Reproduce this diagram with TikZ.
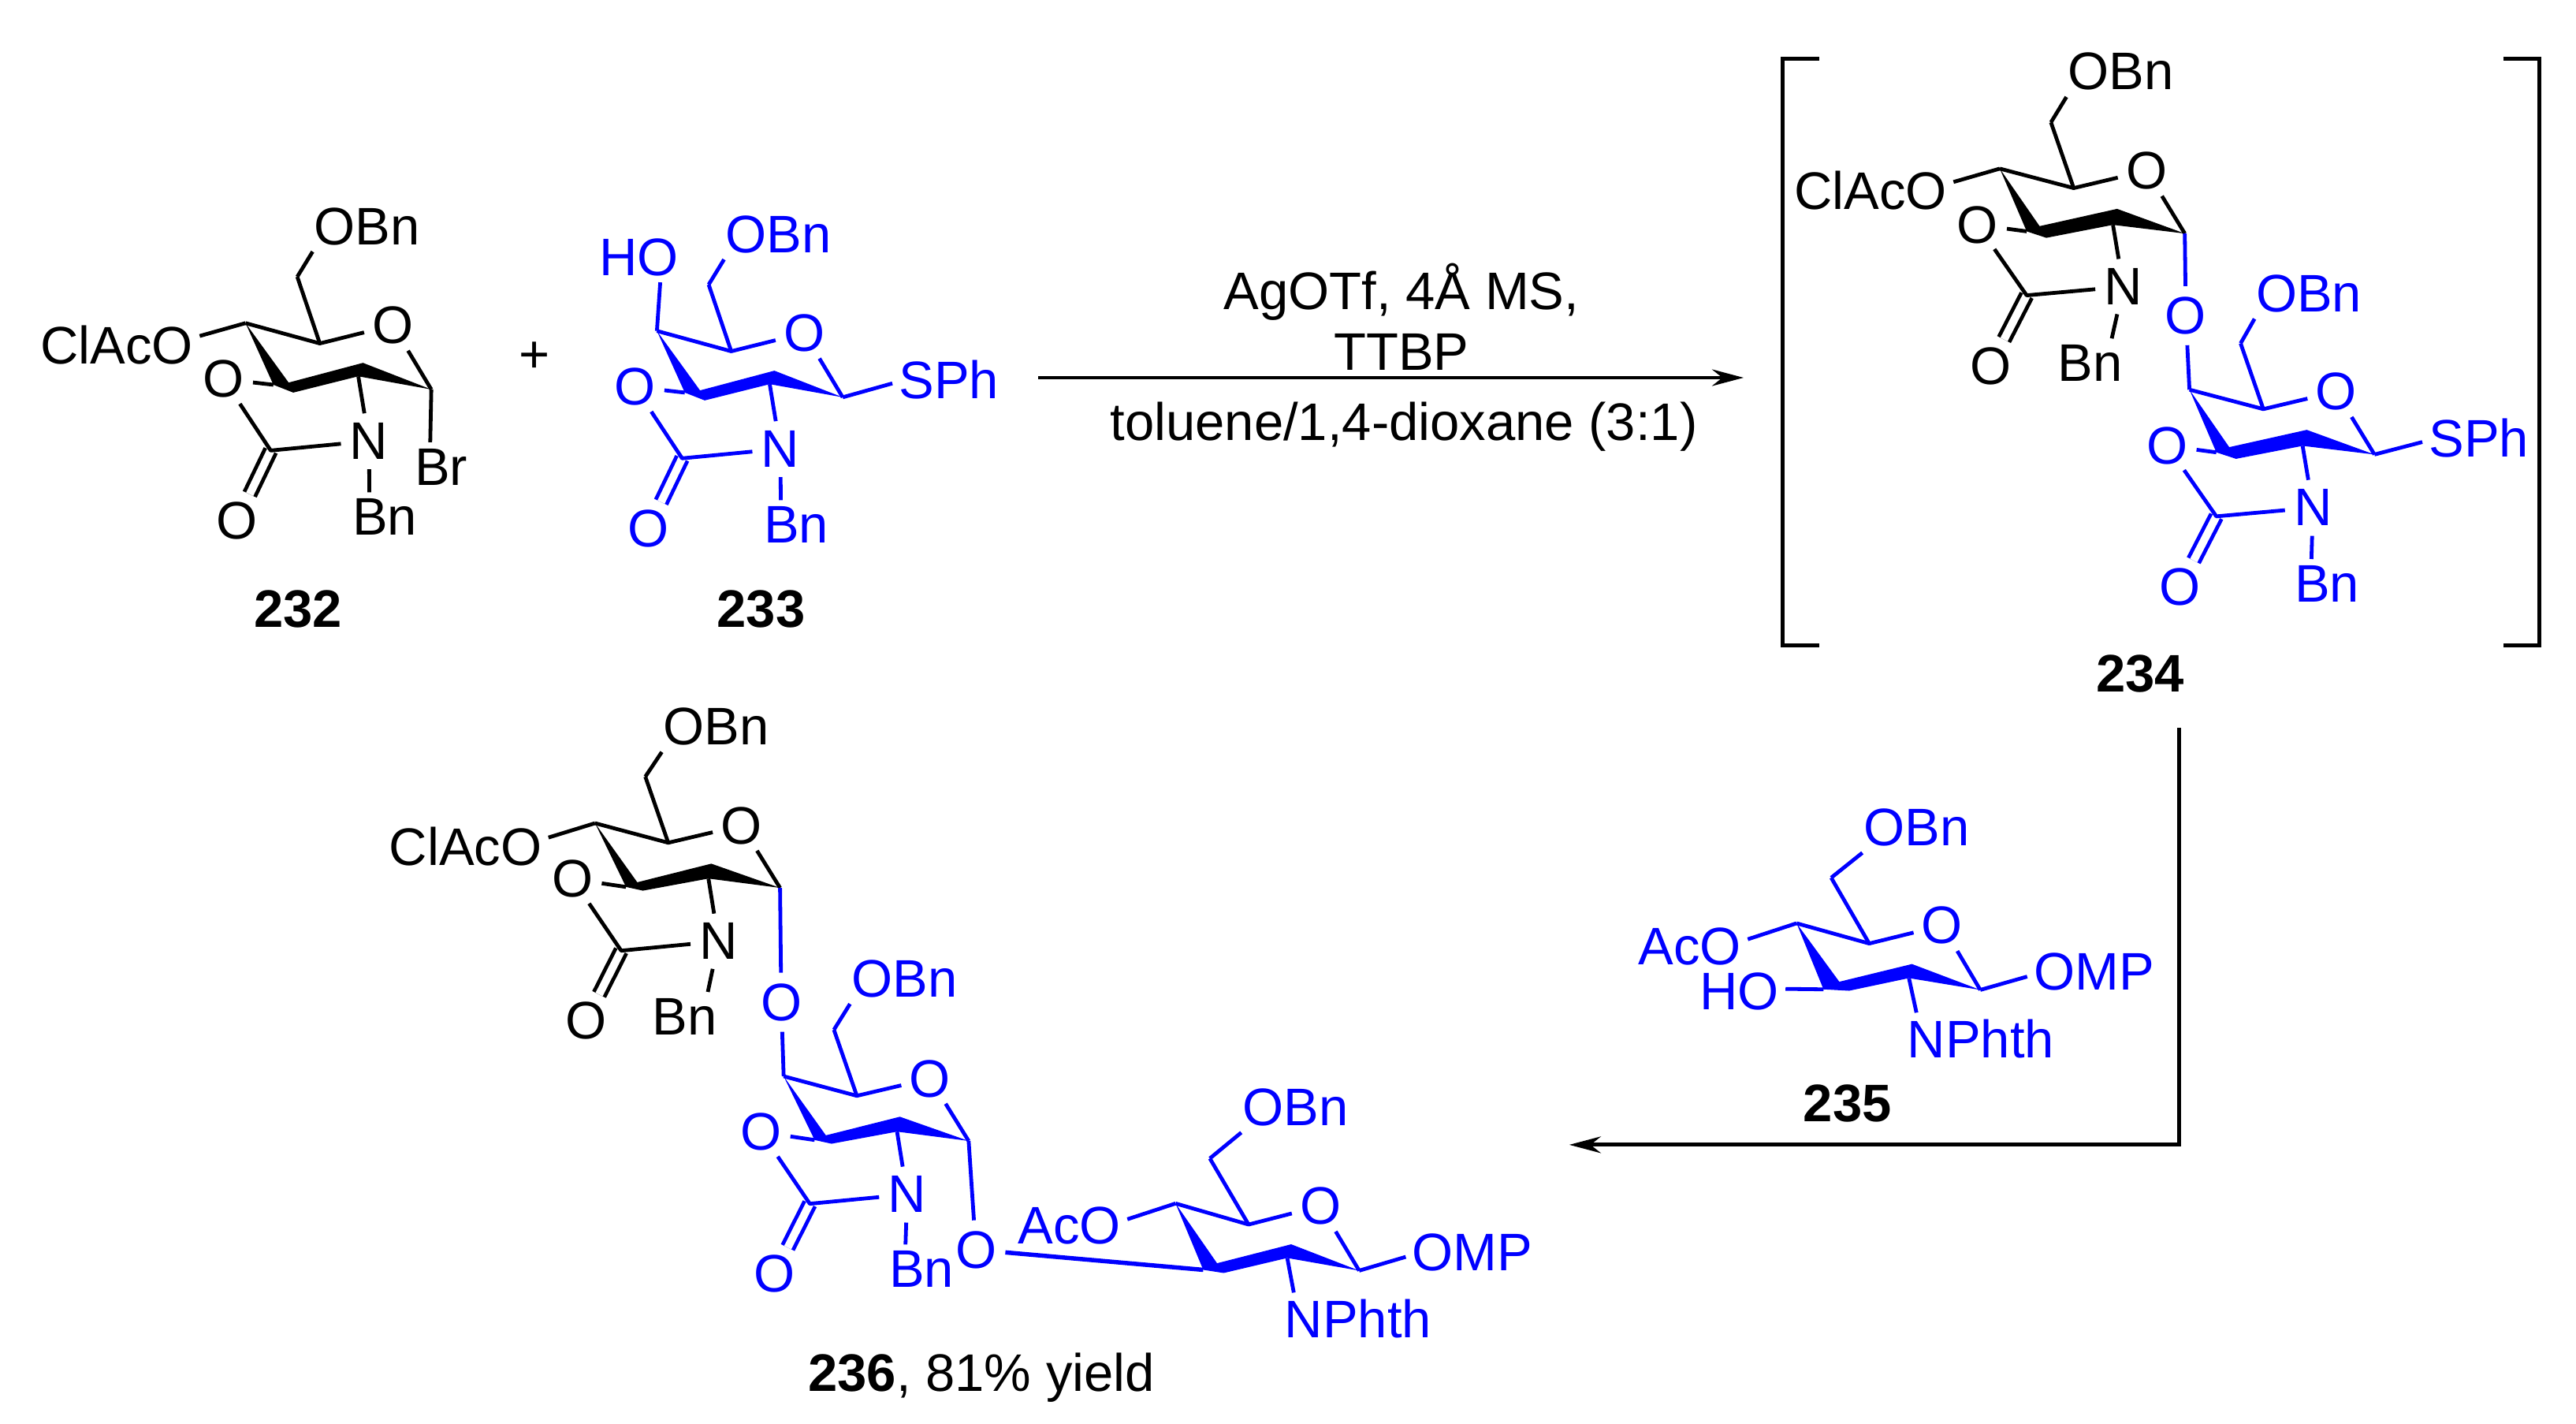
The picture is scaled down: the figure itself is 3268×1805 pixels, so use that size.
\documentclass[tikz,border=0pt]{standalone}
\usepackage{fontspec}
\setmainfont{Liberation Sans}
\usetikzlibrary{arrows.meta}
\definecolor{chemblue}{RGB}{0,0,255}
\tikzset{
  every node/.style={font=\fontsize{67}{70}\selectfont},
  atom/.style={circle,inner sep=0pt,minimum size=62pt},
  group/.style={inner sep=6pt},
  lowgroup/.style={inner sep=6pt,yshift=-1.5pt},
  plain/.style={inner sep=0pt},
  cpd/.style={inner sep=0pt,yshift=-1.5pt,font=\fontsize{67}{70}\selectfont\bfseries},
  blueink/.style={color=chemblue},
  dbl/.style={double=white,double distance=10pt},
  zA/.style={x=0.8418pt,y=-0.397pt,shift={(0pt,-220pt)}},
  zB/.style={x=0.6556pt,y=-0.5485pt,shift={(2240pt,-40pt)}},
  zC/.style={x=0.5102pt,y=-0.59pt,shift={(460pt,-880pt)}},
  zD/.style={x=0.7015pt,y=-0.334pt,shift={(900pt,-1380pt)}},
  zE/.style={x=0.542pt,y=-0.3565pt,shift={(1980pt,-900pt)}},
  rxn/.style={-{Stealth[length=40pt,width=21pt]}}
}
% pyranose ring: needs coordinates c6 c5 c4 c1 t3 t2 b2 b3 l3 and node o
\newcommand\ringbonds[1]{%
  \draw (#1-c6)--(#1-c5)--(#1-o);
  \draw (#1-o)--(#1-c1);
  \draw (#1-c4)--(#1-c5);
  \fill (#1-c4)--(#1-t3)--(#1-t2)--(#1-c1)--(#1-b2)--(#1-b3)--(#1-l3)--cycle;
}
% oxazolidinone: needs cc, nodes oc n ox
\newcommand\carbamate[1]{%
  \draw[dbl] (#1-cc)--(#1-ox);
  \draw (#1-oc)--(#1-l3);
  \draw (#1-oc)--(#1-cc)--(#1-n);
  \draw (#1-b2)--(#1-n);
}
\newcommand\famA[1]{%
  \coordinate (#1-c6) at (448,330); \coordinate (#1-c5) at (482,543);
  \coordinate (#1-c4) at (370,478); \coordinate (#1-c1) at (650,690);
  \coordinate (#1-t3) at (435,668); \coordinate (#1-t2) at (547,605);
  \coordinate (#1-b2) at (540,648); \coordinate (#1-b3) at (442,700);
  \coordinate (#1-l3) at (412,675); \coordinate (#1-cc) at (408,885);
  \node[atom] (#1-o) at (592,485) {O};
  \node[atom] (#1-oc) at (337,657) {O};
  \node[atom] (#1-n) at (556,855) {N};
  \node[atom] (#1-ox) at (357,1110) {O};
  \node[group] (#1-bn) at (580,1098) {Bn};
  \node[lowgroup] (#1-obn) at (553,165) {OBn};
  \ringbonds{#1}\carbamate{#1}
  \draw (#1-n)--(#1-bn.122);
  \draw (#1-c6)--(#1-obn.205);
}
\newcommand\famB[1]{%
  \coordinate (#1-c6) at (552,210); \coordinate (#1-c5) at (596,362);
  \coordinate (#1-c4) at (453,317); \coordinate (#1-c1) at (811,467);
  \coordinate (#1-t3) at (530,450); \coordinate (#1-t2) at (680,410);
  \coordinate (#1-b2) at (672,447); \coordinate (#1-b3) at (543,477);
  \coordinate (#1-l3) at (505,462); \coordinate (#1-cc) at (505,610);
  \node[atom] (#1-o) at (737,322) {O};
  \node[atom] (#1-oc) at (410,447) {O};
  \node[atom] (#1-n) at (692,590) {N};
  \node[atom] (#1-ox) at (435,773) {O};
  \ringbonds{#1}\carbamate{#1}
}
\newcommand\famC[1]{%
  \coordinate (#1-c6) at (703,178); \coordinate (#1-c5) at (760,320);
  \coordinate (#1-c4) at (578,278); \coordinate (#1-c1) at (1038,417);
  \coordinate (#1-t3) at (683,405); \coordinate (#1-t2) at (867,365);
  \coordinate (#1-b2) at (860,397); \coordinate (#1-b3) at (697,423);
  \coordinate (#1-l3) at (655,415); \coordinate (#1-cc) at (643,552);
  \node[atom] (#1-o) at (942,283) {O};
  \node[atom] (#1-oc) at (522,398) {O};
  \node[atom] (#1-n) at (885,532) {N};
  \node[atom] (#1-ox) at (555,703) {O};
  \ringbonds{#1}\carbamate{#1}
}
\begin{document}
\begin{tikzpicture}[x=1pt,y=-1pt,line width=4.8pt,line join=round]
\useasboundingbox (0,0) rectangle (3268,1805);

% 232 and 233
\begin{scope}[zA]
  \famA{a}
  \node[group] (a-claco) at (176,547) {ClAcO};
  \node[group] (a-br) at (665,938) {Br};
  \draw (a-c4)--(a-claco.6);
  \draw (a-c1)--(a-br.114);
  \node[cpd] (l232) at (449,1387) {232};
  \node[plain] (plus) at (805,587) {+};
  \node[cpd] (l233) at (1147,1387) {233};
  \begin{scope}[shift={(620,25)},blueink]
    \famA{b}
    \node[group] (b-sph) at (810,633) {SPh};
    \node[group] (b-ho) at (343,242) {HO};
    \draw (b-c1)--(b-sph.184);
    \draw (b-c4)--(b-ho.-50);
  \end{scope}
\end{scope}

% reagents and first arrow
\node[plain,anchor=base] (r1) at (1778,392) {AgOTf, 4Å MS,};
\node[plain,anchor=base] (r2) at (1778,469) {TTBP};
\node[plain,anchor=base] (r3) at (1781,558) {toluene/1,4-dioxane (3:1)};
\coordinate (arrA) at (1317,479);
\coordinate (arrB) at (2212,479);
\draw[rxn] (arrA)--(arrB);

% 234
\begin{scope}[zB]
  \draw[miter limit=10,line join=miter] (103,63)--(33,63)--(33,1420)--(103,1420);
  \draw[miter limit=10,line join=miter] (1427,63)--(1497,63)--(1497,1420)--(1427,1420);
  \famB{c}
  \node[lowgroup] (c-obn) at (687,90) {OBn};
  \node[group] (c-claco) at (203,368) {ClAcO};
  \node[group] (c-bn) at (628,767) {Bn};
  \draw (c-c6)--(c-obn.205);
  \draw (c-c4)--(c-claco.6);
  \draw (c-n)--(c-bn.49);
  \node[cpd] (l234) at (725,1483) {234};
  \begin{scope}[blueink]
    \node[atom] (c-link) at (813,657) {O};
    \draw (c-c1)--(c-link);
    \begin{scope}[shift={(367,511)}]
      \famB{d}
    \end{scope}
    \draw (c-link)--(d-c4);
    \node[lowgroup] (d-obn) at (1051,603) {OBn};
    \node[group] (d-sph) at (1380,940) {SPh};
    \node[group] (d-bn) at (1086,1277) {Bn};
    \draw (d-c6)--(d-obn.205);
    \draw (d-c1)--(d-sph.184);
    \draw (d-n)--(d-bn.122);
  \end{scope}
\end{scope}

% 235 and second arrow
\begin{scope}[zE,blueink]
  \coordinate (h-c6) at (633,598); \coordinate (h-c5) at (722,832);
  \coordinate (h-c4) at (552,760); \coordinate (h-c1) at (982,997);
  \coordinate (h-t3) at (652,968); \coordinate (h-t2) at (822,905);
  \coordinate (h-b2) at (815,955); \coordinate (h-b3) at (675,1000);
  \coordinate (h-l3) at (615,995);
  \node[atom] (h-o) at (893,768) {O};
  \node[lowgroup] (h-obn) at (833,415) {OBn};
  \node[lowgroup] (h-aco) at (302,838) {AcO};
  \node[group] (h-ho) at (418,1002) {HO};
  \node[group] (h-omp) at (1248,933) {OMP};
  \node[lowgroup] (h-nphth) at (983,1166) {NPhth};
  \ringbonds{h}
  \draw (h-c6)--(h-obn.205);
  \draw (h-c4)--(h-aco.7);
  \draw (h-ho.3)--(h-l3);
  \draw (h-c1)--(h-omp.184);
  \draw (h-b2)--(h-nphth.158);
\end{scope}
\begin{scope}[zE]
  \node[cpd] (l235) at (671,1397) {235};
  \coordinate (arrC) at (1447,65);
  \coordinate (arrD) at (20,1548);
  \draw[rxn,line join=miter] (arrC)|-(arrD);
\end{scope}

% 236
\begin{scope}[zC]
  \famC{e}
  \node[lowgroup] (e-obn) at (879,68) {OBn};
  \node[lowgroup] (e-claco) at (256,325) {ClAcO};
  \node[group] (e-bn) at (801,694) {Bn};
  \draw (e-c6)--(e-obn.205);
  \draw (e-c4)--(e-claco.6);
  \draw (e-n)--(e-bn.47);
  \begin{scope}[blueink]
    \node[atom] (e-link) at (1041,663) {O};
    \draw (e-c1)--(e-link);
    \begin{scope}[shift={(469,544)}]
      \famC{f}
    \end{scope}
    \draw (e-link)--(f-c4);
    \node[group] (f-obn) at (1347,612) {OBn};
    \node[group] (f-bn) at (1390,1237) {Bn};
    \node[atom] (f-link) at (1525,1195) {O};
    \draw (f-c6)--(f-obn.205);
    \draw (f-n)--(f-bn.123);
    \draw (f-c1)--(f-link);
  \end{scope}
\end{scope}
\begin{scope}[zD,blueink]
  \coordinate (g-c6) at (905,267); \coordinate (g-c5) at (975,518);
  \coordinate (g-c4) at (843,438); \coordinate (g-c1) at (1175,693);
  \coordinate (g-t3) at (918,665); \coordinate (g-t2) at (1052,593);
  \coordinate (g-b2) at (1045,645); \coordinate (g-b3) at (930,702);
  \coordinate (g-l3) at (893,690);
  \node[atom] (g-o) at (1105,448) {O};
  \node[lowgroup] (g-obn) at (1060,68) {OBn};
  \node[group] (g-aco) at (651,521) {AcO};
  \node[group] (g-omp) at (1380,623) {OMP};
  \node[group] (g-nphth) at (1173,875) {NPhth};
  \ringbonds{g}
  \draw (g-c6)--(g-obn.205);
  \draw (g-c4)--(g-aco.6);
  \draw (g-c1)--(g-omp.184);
  \draw (g-b2)--(g-nphth.158);
  \draw[line width=5.5pt] (f-link)--(g-l3);
\end{scope}
\begin{scope}[zD]
  \node[plain,anchor=base] (l236) at (492,1152) {\textbf{236}, 81\% yield};
\end{scope}
\end{tikzpicture}
\end{document}
